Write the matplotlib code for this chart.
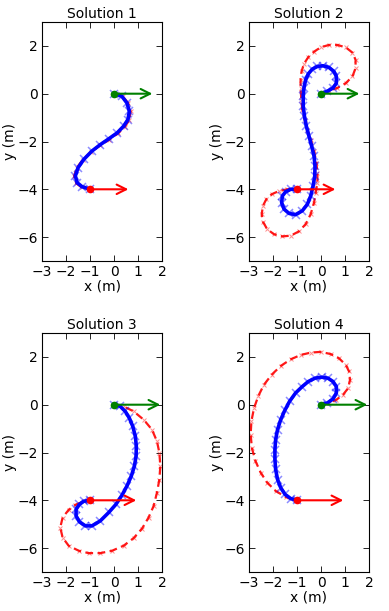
import numpy as np
import matplotlib
matplotlib.use("Agg")
import matplotlib.pyplot as plt

# path (blue) and comparison path (red) for each solution

titles = ["Solution 1", "Solution 2", "Solution 3", "Solution 4"]

# Solution 1
s1_blue_x = [0.0, 0.33, 0.54, 0.64, 0.58, 0.40, 0.13, -0.22, -0.57, -0.92, -1.26, -1.50, -1.61, -1.54, -1.33, -1.0]
s1_blue_y = [0.0, -0.11, -0.39, -0.74, -1.08, -1.36, -1.64, -1.89, -2.13, -2.40, -2.75, -3.10, -3.44, -3.72, -3.89, -4.0]
s1_red_x = [0.0, 0.36, 0.58, 0.69, 0.64, 0.45, 0.17, -0.20, -0.57, -0.94, -1.30, -1.55, -1.66, -1.58, -1.35, -1.0]
s1_red_y = [0.0, -0.10, -0.38, -0.74, -1.10, -1.38, -1.66, -1.92, -2.16, -2.42, -2.76, -3.10, -3.44, -3.74, -3.92, -4.0]

# Solution 2
s2_blue_x = [0.0, 0.26, 0.50, 0.64, 0.64, 0.54, 0.33, 0.08, -0.15, -0.36, -0.53, -0.64, -0.71, -0.74, -0.74,
             -0.69, -0.61, -0.50, -0.39, -0.29, -0.25, -0.26, -0.33, -0.43, -0.57, -0.78, -1.06, -1.33, -1.54,
             -1.64, -1.61, -1.47, -1.26, -1.0]
s2_blue_y = [0.0, 0.10, 0.24, 0.44, 0.72, 0.93, 1.10, 1.17, 1.14, 1.03, 0.83, 0.58, 0.24, -0.11, -0.53,
             -0.94, -1.36, -1.78, -2.19, -2.61, -3.03, -3.44, -3.86, -4.28, -4.63, -4.90, -5.06, -5.01, -4.83,
             -4.56, -4.28, -4.10, -4.00, -4.0]
s2_red_x = [0.0, 0.33, 0.68, 1.03, 1.31, 1.44, 1.44, 1.31, 1.03, 0.68, 0.33, -0.01, -0.29, -0.53, -0.71,
            -0.81, -0.85, -0.85, -0.82, -0.78, -0.68, -0.57, -0.43, -0.29, -0.19, -0.15, -0.15, -0.22, -0.29,
            -0.43, -0.64, -0.92, -1.26, -1.61, -1.96, -2.24, -2.42, -2.47, -2.42, -2.28, -2.06, -1.75, -1.40, -1.0]
s2_red_y = [0.0, 0.13, 0.24, 0.44, 0.72, 1.07, 1.42, 1.72, 1.94, 2.04, 2.04, 1.94, 1.76, 1.53, 1.25,
            0.93, 0.58, 0.24, -0.25, -0.67, -1.08, -1.50, -1.92, -2.40, -2.89, -3.31, -3.72, -4.14, -4.56,
            -5.04, -5.46, -5.76, -5.94, -5.97, -5.88, -5.67, -5.36, -5.04, -4.69, -4.42, -4.21, -4.07, -4.00, -4.0]

# Solution 3
s3_blue_x = [0.0, 0.26, 0.47, 0.64, 0.78, 0.89, 0.93, 0.92, 0.85, 0.72, 0.54, 0.33, 0.08, -0.22, -0.57,
             -0.92, -1.19, -1.44, -1.58, -1.58, -1.44, -1.26, -1.0]
s3_blue_y = [0.0, -0.07, -0.28, -0.56, -0.90, -1.32, -1.74, -2.15, -2.57, -2.99, -3.40, -3.79, -4.17, -4.51, -4.86,
             -5.07, -5.07, -4.90, -4.65, -4.38, -4.17, -4.04, -4.0]
s3_red_x = [0.0, 0.40, 0.82, 1.24, 1.58, 1.79, 1.89, 1.93, 1.89, 1.79, 1.65, 1.44, 1.17, 0.82, 0.40,
            -0.08, -0.57, -1.06, -1.47, -1.89, -2.14, -2.24, -2.14, -1.89, -1.61, -1.26, -1.0]
s3_red_y = [0.0, -0.07, -0.28, -0.63, -1.04, -1.53, -2.01, -2.57, -3.13, -3.68, -4.24, -4.72, -5.18, -5.58, -5.90,
            -6.11, -6.21, -6.21, -6.11, -5.90, -5.56, -5.14, -4.72, -4.40, -4.19, -4.04, -4.0]

# Solution 4
s4_blue_x = [0.0, 0.26, 0.50, 0.64, 0.64, 0.50, 0.29, 0.03, -0.25, -0.53, -0.78, -1.06, -1.31, -1.51, -1.68,
             -1.81, -1.89, -1.92, -1.92, -1.89, -1.81, -1.68, -1.50, -1.26, -1.0]
s4_blue_y = [0.0, 0.07, 0.24, 0.49, 0.76, 0.97, 1.11, 1.15, 1.11, 0.97, 0.76, 0.49, 0.14, -0.24, -0.63,
             -1.04, -1.46, -1.88, -2.29, -2.71, -3.13, -3.47, -3.75, -3.93, -4.0]
s4_red_x = [0.0, 0.33, 0.64, 0.92, 1.13, 1.21, 1.17, 1.03, 0.75, 0.40, -0.01, -0.43, -0.85, -1.26, -1.68,
            -2.06, -2.38, -2.61, -2.79, -2.90, -2.93, -2.88, -2.73, -2.51, -2.24, -1.89, -1.47, -1.0]
s4_red_y = [0.0, 0.07, 0.21, 0.42, 0.69, 1.04, 1.39, 1.67, 1.94, 2.12, 2.21, 2.18, 2.08, 1.90, 1.62,
            1.25, 0.83, 0.37, -0.14, -0.69, -1.25, -1.81, -2.36, -2.85, -3.26, -3.61, -3.86, -4.0]

blue_x = [s1_blue_x, s2_blue_x, s3_blue_x, s4_blue_x]
blue_y = [s1_blue_y, s2_blue_y, s3_blue_y, s4_blue_y]
red_x = [s1_red_x, s2_red_x, s3_red_x, s4_red_x]
red_y = [s1_red_y, s2_red_y, s3_red_y, s4_red_y]

# start / goal poses and heading arrow lengths
start = (0.0, 0.0)
goal = (-1.0, -4.0)
arrow_len = [1.6, 1.6, 1.93, 1.93]

plt.rcParams['font.family'] = 'DejaVu Sans'
plt.rcParams['font.size'] = 10

fig = plt.figure(figsize=(3.89, 6.11), dpi=100)
W, H = 389.0, 611.0
boxes = [(42, 22), (249, 22), (42, 333), (249, 333)]

for k in range(4):
    x0, y0 = boxes[k]
    ax = fig.add_axes([x0 / W, 1 - (y0 + 239) / H, 120 / W, 239 / H])

    ax.plot(red_x[k], red_y[k], 'r--', lw=1.6, dashes=(3.5, 2), alpha=0.9)
    ax.plot(red_x[k], red_y[k], 'rx', ms=3, mew=0.7, alpha=0.45)
    ax.plot(blue_x[k], blue_y[k], 'b-', lw=2.6)
    ax.plot(blue_x[k], blue_y[k], 'bx', ms=6, mew=1.1, alpha=0.45)

    L = arrow_len[k]
    ax.annotate("", xy=(start[0] + L, start[1]), xytext=start,
                arrowprops=dict(arrowstyle='->', color='green', lw=1.5, mutation_scale=17,
                                shrinkA=0, shrinkB=0))
    ax.annotate("", xy=(goal[0] + L, goal[1]), xytext=goal,
                arrowprops=dict(arrowstyle='->', color='red', lw=1.5, mutation_scale=17,
                                shrinkA=0, shrinkB=0))
    ax.plot(start[0], start[1], 'o', color='green', ms=4.5)
    ax.plot(goal[0], goal[1], 'o', color='red', ms=4.5)

    ax.set_xlim(-3, 2)
    ax.set_ylim(-7, 3)
    ax.set_xticks([-3, -2, -1, 0, 1, 2])
    ax.set_yticks([-6, -4, -2, 0, 2])
    ax.tick_params(direction='in', top=True, right=True, length=4, width=0.6, labelsize=10, pad=3)
    ax.set_xlabel("x (m)", labelpad=0)
    ax.set_ylabel("y (m)", labelpad=0)
    ax.set_title(titles[k], fontsize=10, pad=3)

fig.savefig("out.png", dpi=100)
